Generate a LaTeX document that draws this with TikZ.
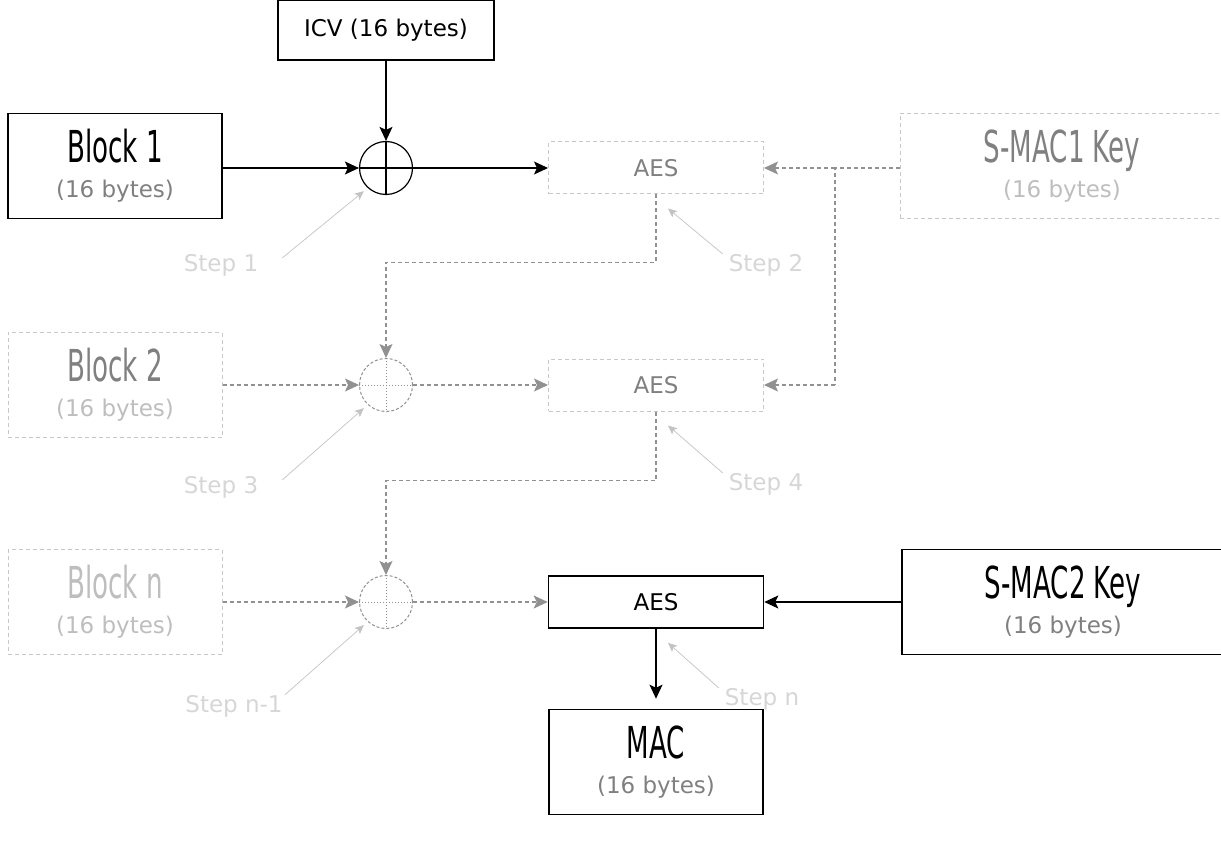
\documentclass[tikz,border=0pt]{standalone}
\usepackage{fontspec}
\setmainfont{DejaVu Sans}
\newfontfamily\condfont[FakeStretch=0.66]{DejaVu Sans Condensed}
\usetikzlibrary{arrows.meta, positioning, calc}
\definecolor{fadeline}{RGB}{200,200,200}
\definecolor{dashgray}{RGB}{145,145,145}
\definecolor{midgray}{RGB}{128,128,128}
\definecolor{lightgray1}{RGB}{190,190,190}
\definecolor{steptext}{RGB}{214,214,214}
\definecolor{steparrow1}{RGB}{195,195,195}
\newcommand\bigtxt{\condfont\fontsize{44}{44}\selectfont}
\newcommand\bytestxt{\fontsize{23}{35}\selectfont}
\newcommand\aestxt{\fontsize{23}{27}\selectfont}

\begin{document}
\begin{tikzpicture}[x=1pt, y=-1pt,
    blockbox/.style={draw, line width=1.6pt, minimum width=214pt, minimum height=105pt, inner sep=0pt, align=center, font=\bytestxt},
    fadebox/.style={blockbox, draw=fadeline, line width=1pt, dash pattern=on 4pt off 3pt},
    aesbox/.style={draw, line width=1.6pt, minimum width=215pt, minimum height=52pt, inner sep=0pt, font=\aestxt},
    fadeaes/.style={aesbox, draw=fadeline, line width=1pt, dash pattern=on 4pt off 3pt, text=midgray},
    xorc/.style={circle, draw, line width=1.2pt, minimum size=53pt, inner sep=0pt},
    fadexor/.style={xorc, draw=dashgray, line width=1pt, dash pattern=on 3pt off 2pt},
    blackarrow/.style={-{Stealth[length=14pt, width=13pt, inset=3pt]}, line width=1.1pt},
    grayarrow/.style={blackarrow, draw=dashgray, dash pattern=on 4pt off 3pt},
    grayline/.style={draw=dashgray, line width=1.1pt, dash pattern=on 4pt off 3pt},
    steplabel/.style={text=steptext, font=\aestxt, inner sep=2pt},
    steparrow/.style={-{Stealth[length=9pt, width=8pt, inset=2pt]}, draw=steparrow1, line width=0.7pt}]

  \useasboundingbox (0,0) rectangle (1221,842);

  % inputs and keys
  \node[draw, line width=1.6pt, minimum width=216pt, minimum height=60pt, inner sep=0pt, font=\bytestxt] (icv) at (386,30) {ICV (16 bytes)};
  \node[blockbox] (block1) at (115,166) {{\bigtxt Block 1}\\{\color{midgray}(16 bytes)}};
  \node[fadebox] (block2) at (115,385) {{\color{midgray}\bigtxt Block 2}\\{\color{lightgray1}(16 bytes)}};
  \node[fadebox] (blockn) at (115,602) {{\color{lightgray1}\bigtxt Block n}\\{\color{lightgray1}(16 bytes)}};
  \node[fadebox, minimum width=324pt] (key1) at (1062,166) {{\color{midgray}\bigtxt S-MAC1 Key}\\{\color{lightgray1}(16 bytes)}};
  \node[blockbox, minimum width=322pt] (key2) at (1063,602) {{\bigtxt S-MAC2 Key}\\{\color{midgray}(16 bytes)}};
  \node[blockbox] (mac) at (656,762) {{\bigtxt MAC}\\{\color{midgray}(16 bytes)}};

  % xor and aes
  \node[xorc] (xor1) at (386,168) {};
  \node[fadexor] (xor2) at (386,385) {};
  \node[fadexor] (xor3) at (386,602) {};
  \draw[line width=1.1pt] (xor1.north) -- (xor1.south) (xor1.west) -- (xor1.east);
  \draw[draw=dashgray, line width=1pt, dotted] (xor2.north) -- (xor2.south) (xor2.west) -- (xor2.east);
  \draw[draw=dashgray, line width=1pt, dotted] (xor3.north) -- (xor3.south) (xor3.west) -- (xor3.east);

  \node[fadeaes] (aes1) at (656,168) {AES};
  \node[fadeaes] (aes2) at (656,385) {AES};
  \node[aesbox] (aes3) at (656,602) {AES};

  % chain
  \draw[blackarrow] (icv) -- (xor1);
  \draw[blackarrow] (block1.east |- xor1) -- (xor1);
  \draw[blackarrow] (xor1) -- (aes1);
  \draw[grayarrow] (aes1.south) -- ++(0,68) -| (xor2.north);
  \draw[grayarrow] (block2) -- (xor2);
  \draw[grayarrow] (xor2) -- (aes2);
  \draw[grayarrow] (aes2.south) -- ++(0,69) -| (xor3.north);
  \draw[grayarrow] (blockn) -- (xor3);
  \draw[grayarrow] (xor3) -- (aes3);
  \draw[blackarrow] (key2) -- (aes3);
  \draw[blackarrow] (aes3.south) -- ([yshift=10pt]mac.north);

  \coordinate (k1) at (835,168);
  \coordinate (k2) at (835,385);
  \draw[grayline] (key1.west |- k1) -- (k1) -- (k2);
  \draw[grayarrow] (k1) -- (aes1.east);
  \draw[grayarrow] (k2) -- (aes2.east);

  % step labels
  \node[steplabel] (s1) at (221,265) {Step 1};
  \node[steplabel] (s2) at (766,265) {Step 2};
  \node[steplabel] (s3) at (221,487) {Step 3};
  \node[steplabel] (s4) at (766,484) {Step 4};
  \node[steplabel] (s5) at (234,706) {Step n-1};
  \node[steplabel] (s6) at (762,699) {Step n};
  \draw[steparrow] ([xshift=22pt, yshift=-6pt]s1.north east) -- ([xshift=-3pt, yshift=-4pt]xor1.south west);
  \draw[steparrow] ([xshift=22pt, yshift=-6pt]s3.north east) -- ([xshift=-3pt, yshift=-4pt]xor2.south west);
  \draw[steparrow] ([xshift=0pt, yshift=-2pt]s5.north east) -- ([xshift=-3pt, yshift=-4pt]xor3.south west);
  \draw[steparrow] ([xshift=-4pt, yshift=-2pt]s2.north west) -- ([xshift=12pt, yshift=-14pt]aes1.south);
  \draw[steparrow] ([xshift=-4pt, yshift=-2pt]s4.north west) -- ([xshift=12pt, yshift=-14pt]aes2.south);
  \draw[steparrow] ([xshift=-4pt, yshift=-2pt]s6.north west) -- ([xshift=12pt, yshift=-14pt]aes3.south);
\end{tikzpicture}
\end{document}
